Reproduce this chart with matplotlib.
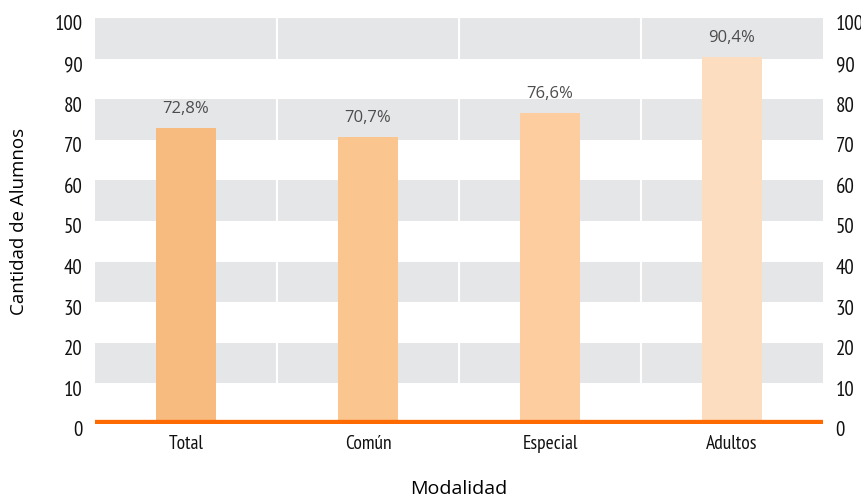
import matplotlib
matplotlib.use('Agg')
import matplotlib.pyplot as plt
import matplotlib.transforms as mtransforms

plt.rcParams['font.family'] = ['PT Sans Narrow', 'DejaVu Sans']

categorias = ['Total', 'Común', 'Especial', 'Adultos']
valores = [72.8, 70.7, 76.6, 90.4]
etiquetas = ['72,8%', '70,7%', '76,6%', '90,4%']
colores = ['#F7BB80', '#FAC58F', '#FDCDA0', '#FDDDBF']
yticks = [0, 10, 20, 30, 40, 50, 60, 70, 80, 90, 100]

fig = plt.figure(figsize=(8.62, 4.98), dpi=100)
ax = fig.add_axes([0.1102, 0.1486, 0.8446, 0.8153])

# franjas grises
for lo in [10, 30, 50, 70, 90]:
    ax.axhspan(lo, lo + 10, color='#E5E6E8', zorder=0, lw=0)
# divisiones blancas entre categorias
for xv in [0.5, 1.5, 2.5]:
    ax.axvline(xv, color='white', lw=1.5, zorder=1)

x = range(len(categorias))
ax.bar(x, valores, width=0.325, color=colores, zorder=2)
for xi, v, t in zip(x, valores, etiquetas):
    ax.annotate(t, (xi, v), xytext=(0, 8), textcoords='offset points',
                ha='center', va='bottom', fontsize=12, color='#4D4D4D',
                family=['Open Sans', 'DejaVu Sans'])

ax.axhline(0, color='#FF6A00', lw=6, zorder=3)

ax.set_xlim(-0.5, 3.5)
ax.set_ylim(0, 100)
ax.set_xticks(list(x))
ax.set_xticklabels(categorias, fontsize=14)
ax.set_yticks(yticks)
ax.tick_params(axis='both', length=0, labelcolor='#111111')
ax.tick_params(axis='x', pad=8, labelsize=14)
ax.tick_params(axis='y', pad=9, labelsize=15, labelright=True)
for s in ax.spines.values():
    s.set_visible(False)

off = mtransforms.ScaledTranslation(0, -5 / 100, fig.dpi_scale_trans)
for t in ax.yaxis.get_major_ticks():
    t.label1.set_transform(t.label1.get_transform() + off)
    t.label2.set_transform(t.label2.get_transform() + off)

ax.set_xlabel('Modalidad', fontsize=14, family=['Open Sans', 'DejaVu Sans'])
ax.set_ylabel('Cantidad de Alumnos', fontsize=13.5, family=['Open Sans', 'DejaVu Sans'])
ax.xaxis.set_label_coords(0.5, -0.137)
ax.yaxis.set_label_coords(-0.092, 0.5)

fig.savefig('out.png', dpi=100)
